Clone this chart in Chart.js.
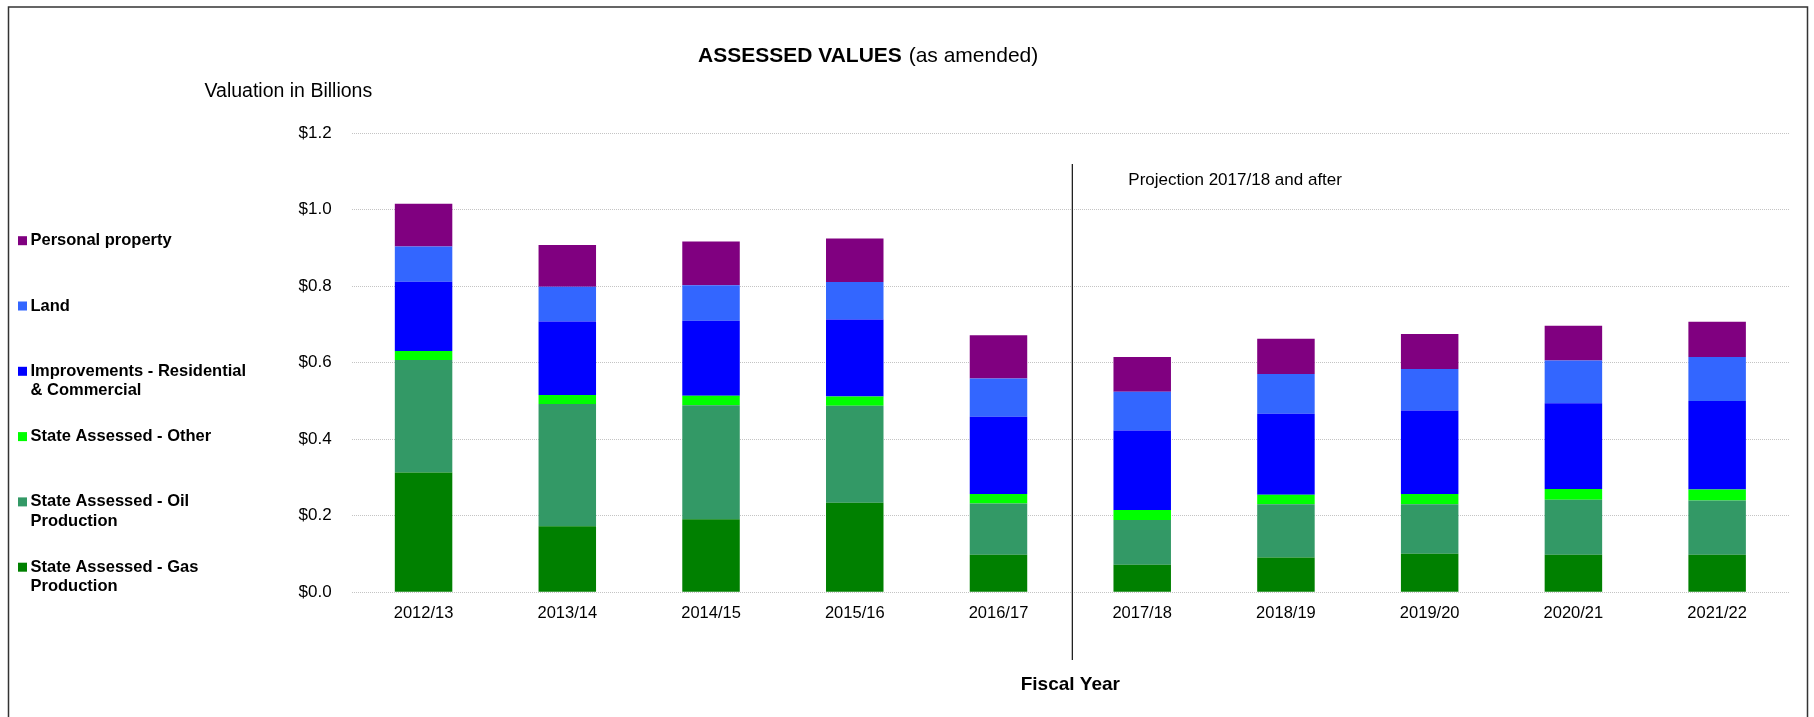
<!DOCTYPE html>
<html>
<head>
<meta charset="utf-8">
<script src="https://cdn.jsdelivr.net/npm/chart.js@4/dist/chart.umd.min.js"></script>
<style>
  html, body { margin: 0; padding: 0; background: #ffffff; }
  #wrap { width: 1814px; height: 717px; position: relative; overflow: hidden; }
</style>
</head>
<body>
<div id="wrap"><canvas id="c" width="1814" height="717"></canvas></div>
<script>
// ---- Data (values in billions of dollars) ----
const categories = ['2012/13', '2013/14', '2014/15', '2015/16', '2016/17', '2017/18', '2018/19', '2019/20', '2020/21', '2021/22'];
const gasProduction = [0.313, 0.173, 0.191, 0.234, 0.098, 0.072, 0.091, 0.101, 0.098, 0.098];
const oilProduction = [0.294, 0.319, 0.298, 0.254, 0.134, 0.117, 0.139, 0.129, 0.144, 0.142];
const stateOther   = [0.024, 0.024, 0.025, 0.024, 0.025, 0.026, 0.025, 0.027, 0.028, 0.029];
const improvements = [0.181, 0.192, 0.196, 0.201, 0.202, 0.208, 0.212, 0.218, 0.224, 0.231];
const land         = [0.092, 0.091, 0.093, 0.098, 0.100, 0.101, 0.104, 0.109, 0.112, 0.115];
const personal     = [0.112, 0.109, 0.114, 0.114, 0.113, 0.091, 0.092, 0.091, 0.091, 0.092];
const yTickValues = [0, 0.2, 0.4, 0.6, 0.8, 1.0, 1.2];
const yTickLabels = ['$0.0', '$0.2', '$0.4', '$0.6', '$0.8', '$1.0', '$1.2'];
const seriesNames = [
  ['State Assessed - Gas', 'Production'],
  ['State Assessed - Oil', 'Production'],
  ['State Assessed - Other'],
  ['Improvements - Residential', '& Commercial'],
  ['Land'],
  ['Personal property']
];
const seriesColors = ['#008000', '#339966', '#00FF00', '#0000FF', '#3366FF', '#800080'];
const titleBold = 'ASSESSED VALUES';
const titleRegular = '(as amended)';
const yAxisCaption = 'Valuation in Billions';
const xAxisCaption = 'Fiscal Year';
const projectionNote = 'Projection 2017/18 and after';
const projectionStartIndex = 5;

const FONT = '"Liberation Sans", Arial, Helvetica, sans-serif';
const seriesData = [gasProduction, oilProduction, stateOther, improvements, land, personal];

const datasets = seriesData.map((d, i) => ({
  label: seriesNames[i].join(' '),
  data: d,
  backgroundColor: seriesColors[i],
  borderWidth: 0,
  barPercentage: 0.4,
  categoryPercentage: 1.0
}));

const decorPlugin = {
  id: 'decor',
  afterDraw(chart) {
    const ctx = chart.ctx;
    const xs = chart.scales.x;
    ctx.save();
    // outer frame
    ctx.strokeStyle = '#333333';
    ctx.lineWidth = 1.5;
    ctx.beginPath();
    ctx.moveTo(8.5, 730);
    ctx.lineTo(8.5, 7);
    ctx.lineTo(1807.5, 7);
    ctx.lineTo(1807.5, 730);
    ctx.stroke();

    // title
    ctx.fillStyle = '#000000';
    ctx.textBaseline = 'alphabetic';
    ctx.textAlign = 'left';
    ctx.font = 'bold 21px ' + FONT;
    const bw = ctx.measureText(titleBold + ' ').width;
    ctx.fillText(titleBold, 698, 62);
    ctx.font = '21px ' + FONT;
    ctx.fillText(titleRegular, 698 + bw + 1, 62);

    // y caption
    ctx.font = '19.5px ' + FONT;
    ctx.fillText(yAxisCaption, 204.5, 96.5);

    // projection divider
    const lx = (xs.getPixelForValue(projectionStartIndex - 1) + xs.getPixelForValue(projectionStartIndex)) / 2 + 2;
    ctx.strokeStyle = '#222222';
    ctx.lineWidth = 1.3;
    ctx.beginPath();
    ctx.moveTo(lx, 164);
    ctx.lineTo(lx, 660);
    ctx.stroke();
    ctx.font = '17px ' + FONT;
    ctx.textBaseline = 'alphabetic';
    ctx.fillText(projectionNote, lx + 56, 185);

    // legend (top to bottom = reverse stacking order)
    ctx.font = 'bold 16.5px ' + FONT;
    ctx.textBaseline = 'middle';
    const order = [5, 4, 3, 2, 1, 0];
    order.forEach((si, k) => {
      const cy = 240.7 + k * 65.3;
      ctx.fillStyle = seriesColors[si];
      ctx.fillRect(18, cy - 4.5, 9, 9);
      ctx.fillStyle = '#000000';
      seriesNames[si].forEach((line, li) => {
        ctx.fillText(line, 30.5, cy + li * 19.3);
      });
    });
    ctx.restore();
  }
};

new Chart(document.getElementById('c'), {
  type: 'bar',
  data: { labels: categories, datasets },
  options: {
    responsive: false,
    animation: false,
    layout: { padding: { left: 0, right: 25, top: 133.3, bottom: 0 } },
    plugins: {
      legend: { display: false },
      title: { display: false },
      tooltip: { enabled: false }
    },
    scales: {
      x: {
        stacked: true,
        grid: { display: false, drawTicks: false },
        border: { display: false },
        ticks: { color: '#000000', font: { family: FONT, size: 16.5 }, padding: 11, maxRotation: 0, autoSkip: false },
        title: { display: true, text: xAxisCaption, color: '#000000', font: { family: FONT, size: 19, weight: 'bold' }, padding: { top: 0, bottom: 20.6 } },
        afterFit(s) { s.height = 717 - 592.3; }
      },
      y: {
        stacked: true,
        min: 0,
        max: 1.2,
        afterBuildTicks(s) { s.ticks = yTickValues.map(v => ({ value: v })); },
        grid: { color: '#c4c4c4', lineWidth: 1, drawTicks: false },
        border: { display: false, dash: [1, 1] },
        ticks: {
          color: '#000000',
          font: { family: FONT, size: 17 },
          padding: 20,
          callback(v, i) { return yTickLabels[i]; }
        },
        afterFit(s) { s.width = 351.7; }
      }
    }
  },
  plugins: [decorPlugin]
});
</script>
</body>
</html>
